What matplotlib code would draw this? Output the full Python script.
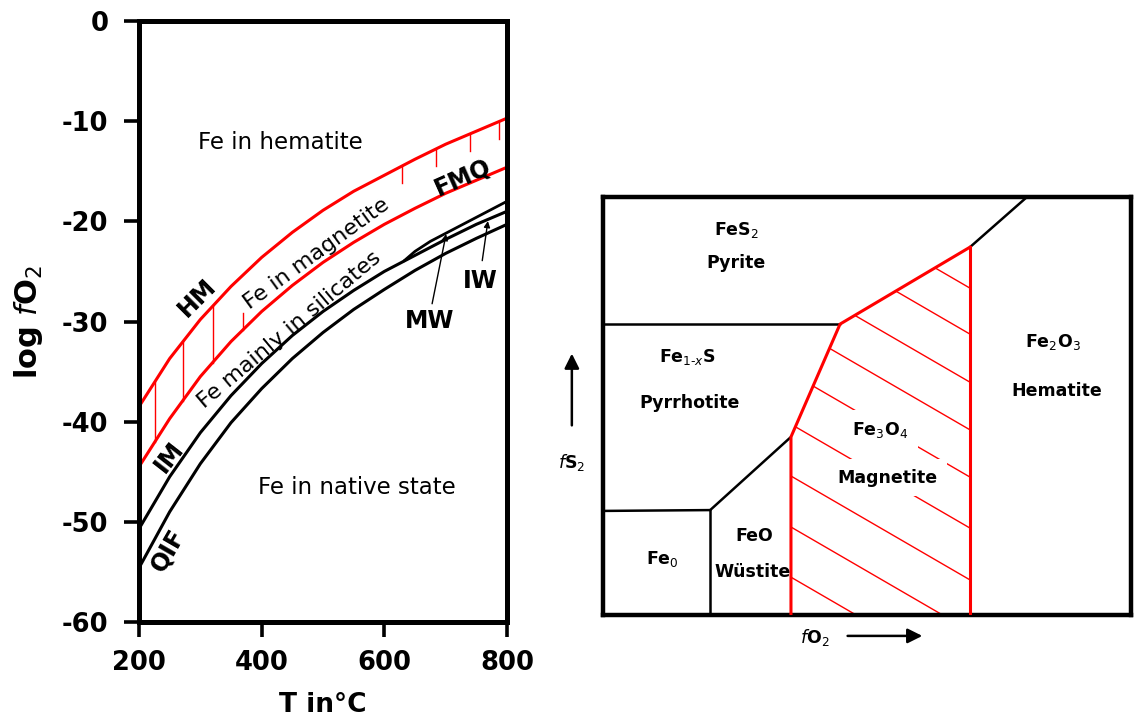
import numpy as np
import matplotlib
matplotlib.use("Agg")
import matplotlib.pyplot as plt
from matplotlib.patches import Polygon

plt.rcParams['font.family'] = ['DejaVu Sans']
plt.rcParams['axes.unicode_minus'] = False
plt.rcParams['mathtext.fontset'] = 'dejavusans'

# --- left panel: oxygen buffers, log fO2 vs T ---
temp = [200, 250, 300, 350, 400, 450, 500, 550, 600, 650, 700, 750, 800]
hm = [-38.5, -33.7, -29.8, -26.5, -23.6, -21.1, -18.9, -17.0, -15.4, -13.8, -12.3, -11.0, -9.7]
fmq = [-44.5, -39.7, -35.5, -32.0, -29.0, -26.4, -24.1, -22.1, -20.3, -18.7, -17.2, -15.9, -14.6]
iw = [-50.7, -45.5, -41.1, -37.4, -34.2, -31.4, -29.0, -26.9, -25.0, -23.4, -21.8, -20.3, -19.0]
qif = [-54.6, -49.0, -44.2, -40.1, -36.7, -33.7, -31.1, -28.8, -26.8, -24.9, -23.2, -21.7, -20.3]
mw_temp = [633, 650, 675, 700, 750, 800]
mw = [-23.9, -23.0, -22.0, -21.2, -19.6, -18.0]

# red marks in the magnetite field
span_temp = [226, 271, 320]          # full bars between HM and FMQ
fmq_mark_temp = [370]                # short mark rising from FMQ
hm_mark_temp = [628, 684, 740, 787]  # short marks hanging from HM

# --- right panel: schematic fS2 - fO2 diagram (relative units 0-100) ---
py_po_x, py_po_y = [0, 44.9], [69.6, 69.6]
py_hem_x, py_hem_y = [69.5, 80.3], [88.0, 100]
po_wus_x, po_wus_y = [20.3, 35.6], [25.1, 42.6]
fe_po_x, fe_po_y = [0, 20.3], [24.9, 25.1]
fe_wus_x, fe_wus_y = [20.3, 20.3], [25.1, 0]
mag_x = [35.6, 35.6, 44.9, 69.5, 69.5]
mag_y = [0, 42.6, 69.6, 88.0, 0]
hatch_y0 = [78.2, 67.2, 55.7, 44.3, 33.0, 20.8, 8.4, -3.8, -15.8]  # at x = 69.5
hatch_slope = -0.733

fig = plt.figure(figsize=(11.34, 7.2), dpi=100)

ax1 = fig.add_axes([139 / 1134, 1 - 622 / 720, 368 / 1134, 601 / 720])
red = '#ff0000'
ax1.plot(temp, hm, color=red, lw=2.2)
ax1.plot(temp, fmq, color=red, lw=2.2)
ax1.plot(temp, iw, color='k', lw=2.2)
ax1.plot(temp, qif, color='k', lw=2.2)
ax1.plot(mw_temp, mw, color='k', lw=2.0)

for t in span_temp:
    ax1.plot([t, t], [np.interp(t, temp, fmq), np.interp(t, temp, hm)], color=red, lw=1.0)
for t in fmq_mark_temp:
    y = np.interp(t, temp, fmq)
    ax1.plot([t, t], [y, y + 1.6], color=red, lw=1.0)
for t in hm_mark_temp:
    y = np.interp(t, temp, hm)
    ax1.plot([t, t], [y, y - 1.7], color=red, lw=1.0)

ax1.set_xlim(200, 800)
ax1.set_ylim(-60, 0)
ax1.set_xticks([200, 400, 600, 800])
ax1.set_yticks([0, -10, -20, -30, -40, -50, -60])
ax1.tick_params(direction='out', length=11, width=2.6, labelsize=18.5)
ax1.tick_params(axis='x', pad=9)
ax1.tick_params(axis='y', pad=11)
for lbl in ax1.get_xticklabels() + ax1.get_yticklabels():
    lbl.set_fontweight('bold')
for s in ax1.spines.values():
    s.set_linewidth(3.6)
ax1.set_xlabel('T in°C', fontsize=19, fontweight='bold', labelpad=12)
ax1.set_ylabel(r'log $\it{f}$O$_2$', fontsize=22, fontweight='bold')
ax1.yaxis.set_label_coords(-0.255, 0.5)

lt = dict(fontsize=16, ha='center', va='center', rotation_mode='anchor')
ax1.text(431, -12.1, 'Fe in hematite', fontsize=16.5, ha='center', va='center')
ax1.text(489, -23.2, 'Fe in magnetite', rotation=36, **lt)
ax1.text(446, -30.8, 'Fe mainly in silicates', rotation=40, **lt)
ax1.text(555, -46.6, 'Fe in native state', fontsize=16.5, ha='center', va='center')
bt = dict(fontsize=17, fontweight='bold', ha='center', va='center', rotation_mode='anchor')
ax1.text(295, -27.6, 'HM', rotation=45, **bt)
ax1.text(250, -43.5, 'IM', rotation=52, **bt)
ax1.text(247, -52.8, 'QIF', rotation=60, **bt)
ax1.text(728, -15.6, 'FMQ', rotation=24, **bt)
ax1.text(674, -30.0, 'MW', **bt)
ax1.text(756, -26.0, 'IW', **bt)
arr = dict(arrowstyle='-|>', lw=1.0, color='k', mutation_scale=9)
ax1.annotate('', xy=(701.6, -21.0), xytext=(677, -28.5), arrowprops=arr)
ax1.annotate('', xy=(769.5, -19.7), xytext=(759, -24.2), arrowprops=arr)

# right panel
ax2 = fig.add_axes([603 / 1134, 1 - 615 / 720, 528 / 1134, 418 / 720])
ax2.set_xlim(0, 100)
ax2.set_ylim(0, 100)
ax2.set_xticks([])
ax2.set_yticks([])
for s in ax2.spines.values():
    s.set_linewidth(3.2)

for xs, ys in [(py_po_x, py_po_y), (py_hem_x, py_hem_y), (po_wus_x, po_wus_y),
               (fe_po_x, fe_po_y), (fe_wus_x, fe_wus_y)]:
    ax2.plot(xs, ys, color='k', lw=1.8, solid_capstyle='round')

clip = Polygon(np.column_stack([mag_x, mag_y]), closed=True, transform=ax2.transData)
hx = np.array([30, 75])
for y0 in hatch_y0:
    ln, = ax2.plot(hx, y0 + hatch_slope * (hx - 69.5), color=red, lw=1.0, zorder=2)
    ln.set_clip_path(clip)
ax2.plot(mag_x[:4], mag_y[:4], color=red, lw=2.2, zorder=3)
ax2.plot(mag_x[3:], mag_y[3:], color=red, lw=2.2, zorder=3)

rt = dict(fontsize=12.5, fontweight='bold', ha='center', va='center')
ax2.text(25.2, 92.1, 'FeS$_2$', **rt)
ax2.text(25.2, 84.2, 'Pyrite', **rt)
ax2.text(15.9, 61.7, 'Fe$_{1\u2010x}$S', **rt)
ax2.text(16.3, 50.7, 'Pyrrhotite', **rt)
wb = dict(facecolor='white', edgecolor='none', boxstyle='square,pad=0.55')
ax2.text(52.5, 44.3, 'Fe$_3$O$_4$', bbox=wb, zorder=4, **rt)
ax2.text(53.8, 32.8, 'Magnetite', bbox=wb, zorder=4, **rt)
ax2.text(85.2, 65.3, 'Fe$_2$O$_3$', **rt)
ax2.text(86.0, 53.6, 'Hematite', **rt)
ax2.text(11.2, 13.4, 'Fe$_0$', **rt)
ax2.text(28.6, 18.9, 'FeO', **rt)
ax2.text(28.4, 10.3, 'Wüstite', **rt)

ax2.text(40.2, -5.5, r'$\it{f}$O$_2$', clip_on=False, **rt)
ax2.annotate('', xy=(61, -5.0), xytext=(45.8, -5.0), annotation_clip=False,
             arrowprops=dict(arrowstyle='-|>', lw=1.8, color='k', mutation_scale=22))
ax2.text(-5.9, 36.4, r'$\it{f}$S$_2$', clip_on=False, **rt)
ax2.annotate('', xy=(-5.9, 63.2), xytext=(-5.9, 44.7), annotation_clip=False,
             arrowprops=dict(arrowstyle='-|>', lw=1.8, color='k', mutation_scale=22))

fig.savefig('out.png', dpi=100)
